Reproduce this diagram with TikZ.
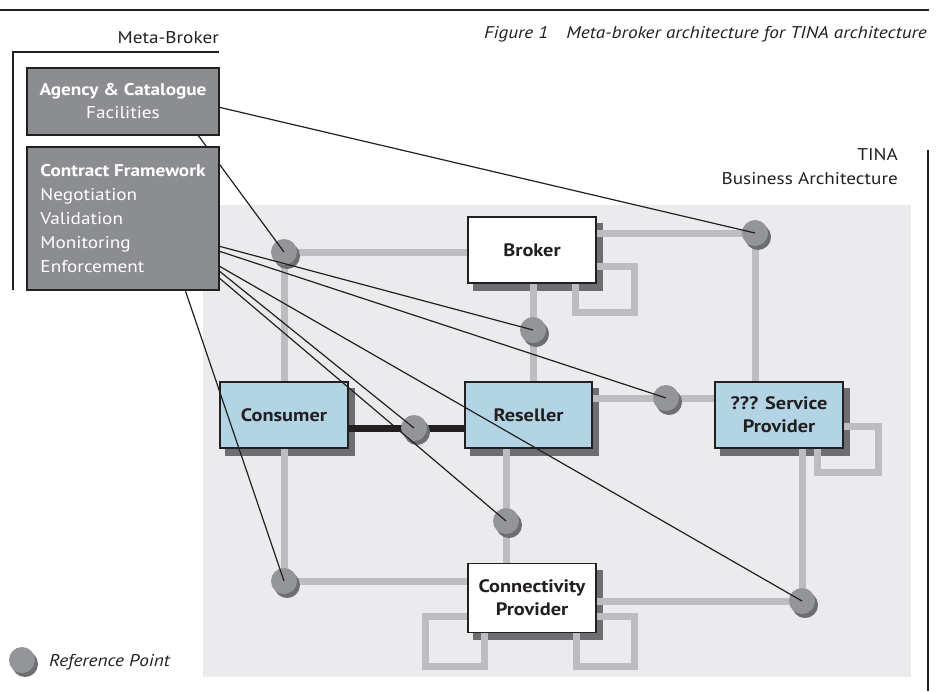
\documentclass[tikz,border=0pt]{standalone}
\usepackage{fontspec}
\setmainfont{PT Sans}[FakeStretch=1.13]
\usetikzlibrary{calc}
\definecolor{bgc}{HTML}{EBEBED}
\definecolor{pipec}{HTML}{BCBDC0}
\definecolor{shadowc}{HTML}{6D6E71}
\definecolor{metac}{HTML}{8C8D90}
\definecolor{bluec}{HTML}{B3D4E4}
\definecolor{refc}{HTML}{939598}
\definecolor{inkc}{HTML}{231F20}
\pgfdeclarelayer{bg}
\pgfdeclarelayer{pipes}
\pgfdeclarelayer{lines}
\pgfdeclarelayer{top}
\pgfsetlayers{bg,pipes,main,lines,top}
\tikzset{
  tbox/.style={draw=inkc, line width=1.3pt, minimum width=128pt, minimum height=66pt, inner sep=0pt,
    align=center, font=\fontsize{18}{23}\selectfont\bfseries, text=inkc},
  whitebox/.style={tbox, fill=white},
  bluebox/.style={tbox, fill=bluec},
  metabox/.style={draw=inkc, line width=1.3pt, fill=metac, minimum width=192pt, inner sep=0pt,
    text=white, font=\fontsize{17}{24}\selectfont},
  refpt/.style={circle, fill=refc, minimum size=26pt, inner sep=0pt},
  refshadow/.style={circle, fill=shadowc, minimum size=26pt, inner sep=0pt},
  pipe/.style={line width=7pt, pipec, line join=miter},
  blacklink/.style={line width=7pt, inkc},
  ctl/.style={line width=1.2pt, inkc},
  hrule/.style={line width=1.4pt, inkc},
  lbl/.style={font=\fontsize{17}{22}\selectfont, text=inkc, inner sep=0pt},
  captxt/.style={font=\fontsize{17}{20}\selectfont\itshape, text=inkc, inner sep=0pt},
}
\newcommand{\boxshadow}[1]{\fill[shadowc] ($(#1.south west)+(6,7)$) rectangle ($(#1.north east)+(6,7)$);}
\begin{document}
\begin{tikzpicture}[x=1pt,y=-1pt]
\useasboundingbox (0,0) rectangle (937,691);

% rules and labels
\draw[hrule] (0,10) -- (929,10);
\node[captxt, anchor=base east] (fig) at (927,38) {Figure 1\hspace{18pt}Meta-broker architecture for TINA architecture};
\node[lbl, anchor=base east] (mbl) at (219,43) {Meta-Broker};
\draw[hrule] (219,52) -- (13,52) -- (13,290);
\node[lbl, anchor=base east] (tina1) at (898,160) {TINA};
\node[lbl, anchor=base east] (tina2) at (898,184) {Business Architecture};
\draw[hrule] (928,150) -- (928,691);

% business architecture boxes
\node[whitebox] (broker) at (532,250) {Broker};
\node[bluebox] (consumer) at (284,415) {Consumer};
\node[bluebox, minimum width=127pt] (reseller) at (528.5,415) {Reseller};
\node[bluebox] (service) at (779,415) {??? Service\\Provider};
\node[whitebox, minimum height=69pt] (conn) at (532,598) {Connectivity\\Provider};

% reference points
\foreach \n/\p in {rpA/{284,252}, rpB/{755,233}, rpC/{533,330}, rpD/{666,398},
                   rpE/{414,428}, rpF/{506,521}, rpG/{284,581}, rpH/{802,601}}{
  \node[refshadow] (\n s) at ($(\p)+(3,4)$) {};
  \node[refpt] (\n) at (\p) {};
}
% legend
\node[refshadow] (legs) at (25,664) {};
\node[refpt] (leg) at (22,660) {};
\node[lbl, font=\fontsize{17}{20}\selectfont\itshape, anchor=base west] (legt) at (49,666) {Reference Point};

\begin{pgfonlayer}{bg}
  \fill[bgc] (203,205) rectangle (911,677);
  \boxshadow{broker}
  \boxshadow{consumer}
  \boxshadow{reseller}
  \boxshadow{service}
  \boxshadow{conn}
\end{pgfonlayer}

\begin{pgfonlayer}{pipes}
  \draw[pipe] (rpA.center) -- (rpA.center -| broker.center);
  \draw[pipe] (rpA.center) -- (rpG.center);
  \draw[pipe] (rpG.center) -- (rpG.center -| conn.center);
  \draw[pipe] (rpB.center -| broker.center) -- (rpB.center);
  \draw[pipe] (rpB.center) -- (rpB.center |- service.center);
  \draw[pipe] ($(broker.north east)+(-6,50)$) -- ++(44,0) -- ++(0,46) -- ++(-59,0) -- ++(0,-36);
  \draw[pipe] (rpC.center |- broker.center) -- (rpC.center |- reseller.center);
  \draw[pipe] (rpD.center -| reseller.center) -- (rpD.center -| service.center);
  \draw[pipe] (rpF.center |- reseller.center) -- (rpF.center |- conn.center);
  \draw[pipe] (rpH.center |- service.center) -- (rpH.center);
  \draw[pipe] (rpH.center -| conn.center) -- (rpH.center);
  \draw[pipe] ($(service.north east)+(-6,45)$) -- ++(41,0) -- ++(0,46) -- ++(-61,0) -- ++(0,-31);
  \draw[pipe] ($(conn.north west)+(6,54)$) -- ++(-48,0) -- ++(0,50) -- ++(59,0) -- ++(0,-40);
  \draw[pipe] ($(conn.north east)+(-6,54)$) -- ++(44,0) -- ++(0,50) -- ++(-58,0) -- ++(0,-40);
  \draw[blacklink] (rpE.center -| consumer.center) -- (rpE.center -| reseller.center);
\end{pgfonlayer}

% meta-broker boxes
\begin{pgfonlayer}{top}
  \node[metabox, minimum height=67pt, align=center] (agency) at (123,101.5)
    {\textbf{Agency \& Catalogue}\\[-1pt]Facilities};
  \node[metabox, minimum height=143pt, align=left] (contract) at (123,218.5)
    {\textbf{Contract Framework}\\Negotiation\\Validation\\Monitoring\\Enforcement};
\end{pgfonlayer}

\begin{pgfonlayer}{lines}
  \draw[ctl] ($(agency.north east)+(0,40)$) -- (rpB.center);
  \draw[ctl] ($(agency.south west)+(172,0)$) -- (rpA.center);
  \draw[ctl] ($(contract.north east)+(0,100)$) -- (rpC.center);
  \draw[ctl] ($(contract.north east)+(0,105)$) -- (rpD.center);
  \draw[ctl] ($(contract.north east)+(0,120)$) -- (rpH.center);
  \draw[ctl] ($(contract.north east)+(0,125)$) -- (rpE.center);
  \draw[ctl] ($(contract.north east)+(0,132)$) -- (rpF.center);
  \draw[ctl] ($(contract.south west)+(159,0)$) -- (rpG.center);
\end{pgfonlayer}
\end{tikzpicture}
\end{document}
